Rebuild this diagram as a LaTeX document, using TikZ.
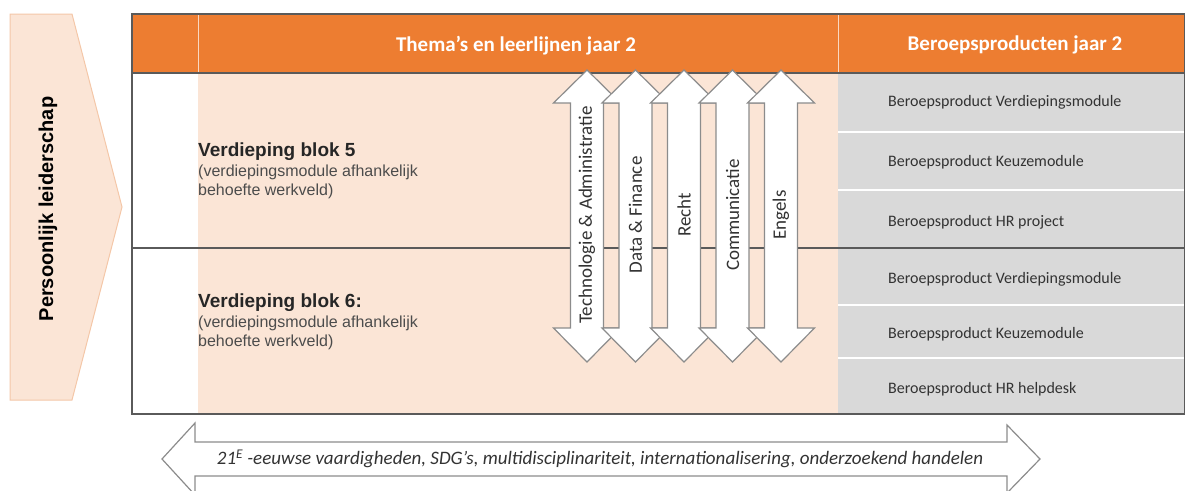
\documentclass[tikz,border=0pt]{standalone}
\usepackage{fontspec}
\setmainfont{Carlito}
\newfontfamily\arialfont{Liberation Sans}
\usetikzlibrary{calc}
\definecolor{oranje}{HTML}{ED7D31}
\definecolor{perzik}{HTML}{FBE5D6}
\definecolor{perzikrand}{HTML}{F4C7A8}
\definecolor{grijs}{HTML}{D9D9D9}
\definecolor{rand}{HTML}{5A5A5A}
\definecolor{pijlrand}{HTML}{8C8C8C}
\tikzset{
	pijl/.style={draw=pijlrand,fill=white,line width=1.2pt,line join=miter},
	kop/.style={text=white,font=\bfseries\fontsize{21}{24}\selectfont,inner sep=0},
	product/.style={anchor=west,inner sep=0,font=\fontsize{16}{18}\selectfont,text=black!80},
	blok/.style={anchor=west,inner sep=0,font=\arialfont\bfseries\fontsize{19}{22}\selectfont,text=black!85},
	uitleg/.style={anchor=north west,inner sep=0,align=left,font=\arialfont\fontsize{16}{19}\selectfont,text=black!70},
	lijn/.style={inner sep=0,rotate=90,font=\fontsize{19}{22}\selectfont,text=black!80}
}
\begin{document}
\begin{tikzpicture}[x=1pt,y=-1pt]
			\useasboundingbox (0,0) rectangle (1185,490);
			\path
			(132,14) coordinate (TL)
			(1184.5,414) coordinate (BR)
			(198,73) coordinate (P)
			(838,73) coordinate (G)
			;
			% leiderschap
			\draw[fill=perzik,draw=perzikrand,line width=1pt] (10,14) -- (72,14) -- (122,207) -- (72,400) -- (10,400) -- cycle;
			\node[rotate=90,inner sep=0,font=\arialfont\bfseries\fontsize{20}{23}\selectfont] (leiderschap) at (48,209) {Persoonlijk leiderschap};
			% tabel
			\fill[oranje] (TL) rectangle (1185,73);
			\fill[perzik] (P) rectangle (838,414);
			\fill[grijs] (G) rectangle (1185,414);
			\foreach \y in {132,190,305,358} \draw[white,line width=1.5pt] (838,\y) -- (1185,\y);
			\draw[white!70!oranje,line width=1pt] (198,14) -- (198,73) (838,14) -- (838,73);
			\draw[rand,line width=1.2pt] (132,73) -- (1185,73) (132,248) -- (1185,248);
			\draw[rand,line width=1.5pt] (TL) rectangle (BR);
			\node[kop] (themas) at (516,46) {Thema’s en leerlijnen jaar 2};
			\node[kop] (producten) at (1015,45) {Beroepsproducten jaar 2};
			\node[blok] (blok5) at (198,152) {Verdieping blok 5};
			\node[uitleg] (uitleg5) at ($(blok5.south west)+(0,4)$) {(verdiepingsmodule afhankelijk\\behoefte werkveld)};
			\node[blok] (blok6) at (198,303) {Verdieping blok 6:};
			\node[uitleg] (uitleg6) at ($(blok6.south west)+(0,4)$) {(verdiepingsmodule afhankelijk\\behoefte werkveld)};
			\foreach \y/\t [count=\i] in {102/Verdiepingsmodule,162/Keuzemodule,222/HR project,279/Verdiepingsmodule,334/Keuzemodule,389/HR helpdesk}
			\node[product] (product\i) at (888,\y) {Beroepsproduct \t};
			% leerlijnen
			\foreach \x/\t [count=\i] in {587/Technologie \& Administratie,635.5/Data \& Finance,684/Recht,732.5/Communicatie,781/Engels}{
				\draw[pijl] (\x-16.5,103) -- (\x-33.5,103) -- (\x,70) -- (\x+33.5,103) -- (\x+16.5,103) -- (\x+16.5,328) -- (\x+33.5,328) -- (\x,362) -- (\x-33.5,328) -- (\x-16.5,328) -- cycle;
				\node[lijn] (leerlijn\i) at (\x,215) {\t};
			}
			% vaardigheden
			\draw[pijl] (162,459) -- (195,423) -- (195,442) -- (1007,442) -- (1007,425) -- (1040,459) -- (1007,493) -- (1007,476) -- (195,476) -- (195,495) -- cycle;
			\node[inner sep=0,font=\itshape\fontsize{19}{21}\selectfont,text=black!80] (vaardigheden) at (600,459) {21\textsuperscript{E} -eeuwse vaardigheden, SDG’s, multidisciplinariteit, internationalisering, onderzoekend handelen};
		\end{tikzpicture}
\end{document}
